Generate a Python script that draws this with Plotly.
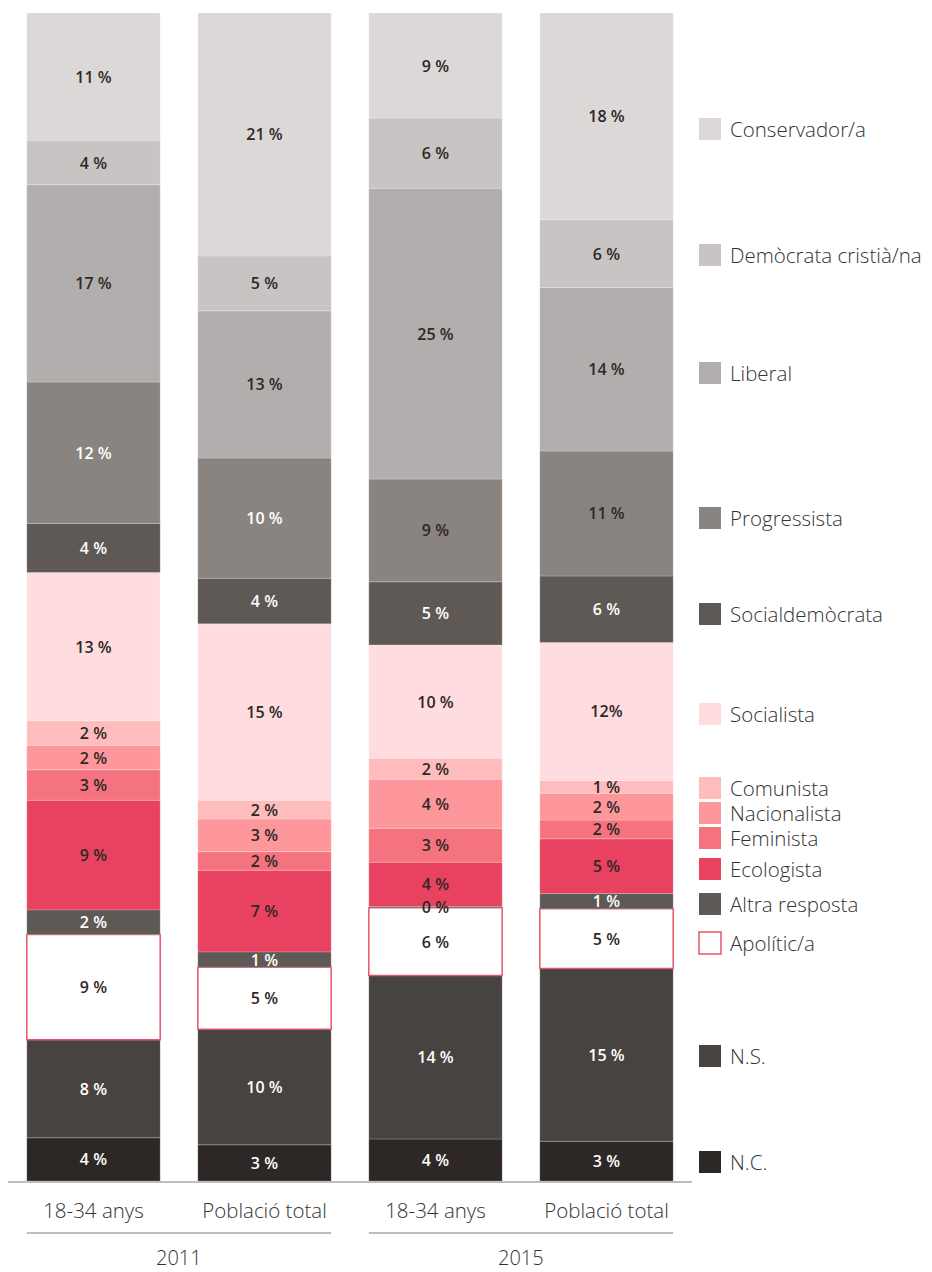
import plotly.graph_objects as go

# Column groups and tick labels
years = ["2011", "2015"]
groups = ["18-34 anys", "Població total", "18-34 anys", "Població total"]

# Percentages per column: 2011 18-34, 2011 total, 2015 18-34, 2015 total
nc = [3.7, 3.1, 3.6, 3.4]
ns = [8.4, 9.9, 14.0, 14.8]
apolitic = [9.0, 5.3, 5.8, 5.1]
altra = [2.1, 1.3, 0.1, 1.3]
ecologista = [9.4, 7.0, 3.8, 4.7]
feminista = [2.6, 1.6, 2.9, 1.6]
nacionalista = [2.1, 2.8, 4.2, 2.3]
comunista = [2.1, 1.6, 1.8, 1.1]
socialista = [12.7, 15.1, 9.7, 11.8]
socialdemocrata = [4.2, 3.9, 5.4, 5.7]
progressista = [12.1, 10.3, 8.8, 10.7]
liberal = [16.9, 12.6, 24.9, 14.0]
democrata = [3.8, 4.7, 6.0, 5.8]
conservador = [10.9, 20.8, 9.0, 17.7]

DARK = "#2d2826"
WHITE = "#ffffff"
FONT = "Open Sans"

# (name, values, fill, text colour per column, legend y-pixel), bottom to top
series = [
    ("N.C.", nc, "#2d2826", [WHITE] * 4, 1162),
    ("N.S.", ns, "#474340", [WHITE] * 4, 1056),
    ("Apolític/a", apolitic, "#ffffff", [DARK] * 4, 943),
    ("Altra resposta", altra, "#5f5955", [WHITE, WHITE, DARK, WHITE], 904),
    ("Ecologista", ecologista, "#e84260", [DARK] * 4, 869),
    ("Feminista", feminista, "#f5737e", [DARK] * 4, 838),
    ("Nacionalista", nacionalista, "#fd979c", [DARK] * 4, 813),
    ("Comunista", comunista, "#febcbd", [DARK] * 4, 788),
    ("Socialista", socialista, "#fedcdf", [DARK] * 4, 714),
    ("Socialdemòcrata", socialdemocrata, "#5f5955", [WHITE] * 4, 614),
    ("Progressista", progressista, "#8a8480", [WHITE, WHITE, DARK, DARK], 518),
    ("Liberal", liberal, "#b2aead", [DARK] * 4, 373),
    ("Demòcrata cristià/na", democrata, "#c8c4c3", [DARK] * 4, 255),
    ("Conservador/a", conservador, "#dcd8d8", [DARK] * 4, 129),
]

W, H = 932, 1272
ML, MR, MT, MB = 8, 240, 13, 91
PW, PH = W - ML - MR, H - MT - MB


def px_x(px):
    return (px - ML) / PW


def px_y(py):
    return (H - MB - py) / PH


xs = [0, 1, 2, 3]

# Stack bases computed from the data so that the thin "Altra resposta"
# segments (and their labels) can be drawn on top of their neighbours.
bases = []
running = [0.0] * 4
for _, vals, _, _, _ in series:
    bases.append(list(running))
    running = [r + v for r, v in zip(running, vals)]

draw_order = [i for i, s in enumerate(series) if s[0] != "Altra resposta"]
draw_order += [i for i, s in enumerate(series) if s[0] == "Altra resposta"]

fig = go.Figure()
for i in draw_order:
    name, vals, fill, tcolors, _ = series[i]
    border = "#e8546c" if name == "Apolític/a" else "rgba(255,255,255,0.35)"
    bw = 1.5 if name == "Apolític/a" else 0.6
    templates = ["%{y:.0f} %"] * 4
    if name == "Socialista":
        templates[3] = "%{y:.0f}%"
    fig.add_trace(go.Bar(
        x=xs, y=vals, base=bases[i], name=name,
        marker=dict(color=fill, line=dict(color=border, width=bw)),
        texttemplate=templates,
        textposition="inside", insidetextanchor="middle",
        textangle=0, constraintext="none",
        textfont=dict(family=FONT, size=16, color=tcolors, weight=600),
        showlegend=False, hoverinfo="skip",
    ))

shapes = []
annotations = []

# Legend: swatches and labels
for name, vals, fill, _, ly in series:
    line = dict(color="#e8546c", width=1.5) if name == "Apolític/a" else dict(width=0)
    shapes.append(dict(type="rect", xref="paper", yref="paper",
                       x0=px_x(699), x1=px_x(721),
                       y0=px_y(ly + 11), y1=px_y(ly - 11),
                       fillcolor=fill, line=line))
    annotations.append(dict(xref="paper", yref="paper", x=px_x(728), y=px_y(ly),
                            text=name, showarrow=False, xanchor="left", yanchor="middle",
                            font=dict(family=FONT, size=20.5, color="#333333", weight=300)))

# Year group underlines and labels
for i, yr in enumerate(years):
    shapes.append(dict(type="line", xref="x", yref="paper",
                       x0=2 * i - 0.39, x1=2 * i + 1.39,
                       y0=px_y(1233), y1=px_y(1233),
                       line=dict(color="#bdbdbd", width=2)))
    annotations.append(dict(xref="x", yref="paper", x=2 * i + 0.5, y=px_y(1257),
                            text=yr, showarrow=False, xanchor="center", yanchor="middle",
                            font=dict(family=FONT, size=20, color="#333333", weight=300)))

fig.update_layout(
    barmode="overlay", bargap=0.22,
    width=W, height=H,
    margin=dict(l=ML, r=MR, t=MT, b=MB),
    paper_bgcolor="white", plot_bgcolor="white",
    uniformtext=dict(minsize=16, mode="show"),
    shapes=shapes, annotations=annotations,
    xaxis=dict(tickvals=xs, ticktext=groups, range=[-0.5, 3.5],
               showline=True, linecolor="#bdbdbd", linewidth=2,
               ticks="", showgrid=False, zeroline=False, fixedrange=True,
               ticklabelstandoff=10,
               tickfont=dict(family=FONT, size=20.5, color="#333333", weight=300)),
    yaxis=dict(range=[0, 100], visible=False, fixedrange=True),
)

fig.write_html("out.html")
